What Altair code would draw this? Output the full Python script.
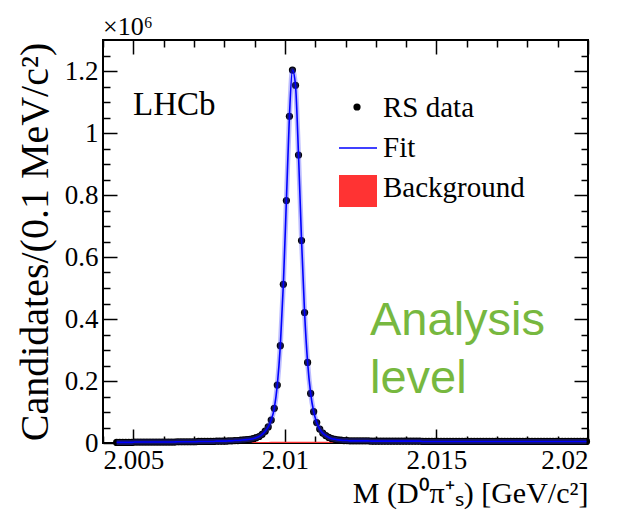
import altair as alt
import pandas as pd

# ---------------- data (values in units of 10^6 candidates) ----------------
bin_start = 2.0044      # GeV/c^2, lower edge of first bin
bin_width = 0.0001      # 0.1 MeV/c^2

counts = [
    # 2.00445 - 2.00595
    0.002, 0.002, 0.002, 0.002, 0.002, 0.002, 0.003, 0.003, 0.003, 0.003,
    0.003, 0.003, 0.003, 0.003, 0.003, 0.003,
    # 2.00605 - 2.00795
    0.003, 0.003, 0.003, 0.003, 0.004, 0.004, 0.004, 0.004, 0.004, 0.004,
    0.004, 0.005, 0.005, 0.005, 0.005, 0.005, 0.005, 0.006, 0.006, 0.006,
    # 2.00805 - 2.00945
    0.006, 0.007, 0.007, 0.008, 0.008, 0.009, 0.010, 0.011, 0.012, 0.014,
    0.017, 0.021, 0.028, 0.038, 0.052,
    # 2.00955 - 2.01195  (peak)
    0.074, 0.112, 0.187, 0.314, 0.512, 0.782, 1.054, 1.203, 1.154, 0.929,
    0.653, 0.421, 0.260, 0.160, 0.101, 0.066, 0.045, 0.032, 0.024, 0.018,
    0.014, 0.012, 0.010, 0.009, 0.008,
    # 2.01205 - 2.01995
    0.008, 0.007, 0.007, 0.007, 0.007, 0.007, 0.007, 0.007, 0.006, 0.006,
    0.006, 0.006, 0.006, 0.006, 0.006, 0.006, 0.006, 0.006, 0.006, 0.006,
    0.006, 0.006, 0.006, 0.006, 0.006, 0.005, 0.005, 0.005, 0.005, 0.005,
    0.005, 0.005, 0.005, 0.005, 0.005, 0.005, 0.005, 0.005, 0.005, 0.005,
    0.005, 0.005, 0.005, 0.005, 0.005, 0.005, 0.005, 0.005, 0.005, 0.005,
    0.005, 0.005, 0.005, 0.005, 0.005, 0.005, 0.005, 0.005, 0.005, 0.005,
    0.005, 0.005, 0.005, 0.005, 0.005, 0.005, 0.005, 0.005, 0.005, 0.005,
    0.005, 0.005, 0.005, 0.005, 0.005, 0.005, 0.005, 0.005, 0.005, 0.005,
]

background = [
    0.001, 0.001, 0.001, 0.001, 0.001, 0.001, 0.001, 0.001, 0.001, 0.001,
    0.001, 0.001, 0.001, 0.001, 0.001, 0.001,
    0.002, 0.002, 0.002, 0.002, 0.002, 0.002, 0.002, 0.002, 0.002, 0.002,
    0.002, 0.002, 0.002, 0.002, 0.002, 0.002, 0.002, 0.002, 0.002, 0.002,
    0.003, 0.003, 0.003, 0.003, 0.003, 0.003, 0.003, 0.003, 0.003, 0.003,
    0.003, 0.003, 0.003, 0.003, 0.003,
    0.004, 0.004, 0.004, 0.004, 0.004, 0.004, 0.004, 0.004, 0.004, 0.004,
    0.004, 0.004, 0.004, 0.004, 0.004, 0.004, 0.004, 0.004, 0.004, 0.004,
    0.004, 0.004, 0.004, 0.004, 0.004,
    0.004, 0.004, 0.004, 0.004, 0.004, 0.004, 0.004, 0.004, 0.004, 0.004,
    0.004, 0.004, 0.004, 0.004, 0.004, 0.004, 0.004, 0.004, 0.004, 0.004,
    0.004, 0.004, 0.004, 0.004, 0.004, 0.004, 0.004, 0.004, 0.004, 0.004,
    0.004, 0.004, 0.004, 0.004, 0.004, 0.004, 0.004, 0.004, 0.004, 0.004,
    0.004, 0.004, 0.004, 0.004, 0.004, 0.004, 0.004, 0.004, 0.004, 0.004,
    0.004, 0.004, 0.004, 0.004, 0.004, 0.004, 0.004, 0.004, 0.004, 0.004,
    0.004, 0.004, 0.004, 0.004, 0.004, 0.004, 0.004, 0.004, 0.004, 0.004,
    0.004, 0.004, 0.004, 0.004, 0.004, 0.004, 0.004, 0.004, 0.004, 0.004,
]

x_major = [2.005, 2.01, 2.015, 2.02]
x_minor = [2.004, 2.006, 2.007, 2.008, 2.009, 2.011, 2.012, 2.013, 2.014,
           2.016, 2.017, 2.018, 2.019]
y_major = [0, 0.2, 0.4, 0.6, 0.8, 1.0, 1.2]
y_minor = [0.05, 0.1, 0.15, 0.25, 0.3, 0.35, 0.45, 0.5, 0.55, 0.65, 0.7, 0.75,
           0.85, 0.9, 0.95, 1.05, 1.1, 1.15, 1.25]

centers = [bin_start + bin_width * (i + 0.5) for i in range(len(counts))]
df = pd.DataFrame({"m": centers, "n": counts, "b": background})

FONT = "Liberation Serif"
MAJ = 14
MIN = 7

xs = alt.Scale(domain=[2.004, 2.02], nice=False, zero=False)
ys = alt.Scale(domain=[0, 1.3], nice=False, zero=False)

def tick_axis(orient, values, size, labels=False, **kw):
    return alt.Axis(orient=orient, values=values, tickSize=size, offset=-size,
                    domain=False, grid=False, labels=labels, tickColor="black",
                    tickWidth=1.5, **kw)

base = alt.Chart(df)

# background
bkg = base.mark_area(color="#ff3333", opacity=1).encode(
    x=alt.X("m:Q", scale=xs, axis=None),
    y=alt.Y("b:Q", scale=ys, axis=None),
)

# data points with the main (labelled) axes
points = base.mark_circle(size=52, color="black", opacity=1).encode(
    x=alt.X("m:Q", scale=xs,
            axis=tick_axis("bottom", x_major, MAJ, labels=True, format="~g",
                           labelFont=FONT, labelFontSize=27, labelColor="black",
                           labelPadding=4, title="M (D⁰π⁺ₛ) [GeV/c²]",
                           titleFont=FONT, titleFontSize=30,
                           titleFontWeight="normal", titleColor="black",
                           titleAnchor="end", titlePadding=5)),
    y=alt.Y("n:Q", scale=ys,
            axis=tick_axis("left", y_major, MAJ, labels=True, format="~g",
                           labelFont=FONT, labelFontSize=27, labelColor="black",
                           labelPadding=5, title="Candidates/(0.1 MeV/c²)",
                           titleFont=FONT, titleFontSize=40,
                           titleFontWeight="normal", titleColor="black",
                           titlePadding=9)),
)

halo = base.mark_line(color="#4040ff", strokeWidth=5, opacity=0.35,
                      interpolate="monotone").encode(
    x=alt.X("m:Q", scale=xs, axis=None),
    y=alt.Y("n:Q", scale=ys, axis=None),
)
fit = base.mark_line(color="#0000ff", strokeWidth=1.6,
                     interpolate="monotone").encode(
    x=alt.X("m:Q", scale=xs, axis=None),
    y=alt.Y("n:Q", scale=ys, axis=None),
)

def ghost(xa, ya):
    return base.mark_point(opacity=0).encode(
        x=alt.X("m:Q", scale=xs, axis=xa, title=None),
        y=alt.Y("n:Q", scale=ys, axis=ya, title=None),
    )

ax_minor_bl = ghost(tick_axis("bottom", x_minor, MIN), tick_axis("left", y_minor, MIN))
ax_major_tr = ghost(tick_axis("top", x_major, MAJ), tick_axis("right", y_major, MAJ))
ax_minor_tr = ghost(tick_axis("top", x_minor, MIN), tick_axis("right", y_minor, MIN))

one = alt.Data(values=[{}])

def label(text, x, y, size, font=FONT, color="black"):
    return alt.Chart(one).mark_text(text=text, font=font, fontSize=size,
                                    align="left", baseline="alphabetic",
                                    color=color).encode(
        x=alt.value(x), y=alt.value(y))

exp_label = label("×10⁶", 0, -5, 26)
lhcb = label("LHCb", 30, 75, 33)

leg_dot = alt.Chart(one).mark_circle(size=52, color="black", opacity=1).encode(
    x=alt.value(254), y=alt.value(67))
leg_line = alt.Chart(one).mark_rule(color="#0000ff", strokeWidth=1.6).encode(
    x=alt.value(236), x2=alt.value(274), y=alt.value(108))
leg_rect = alt.Chart(one).mark_rect(color="#ff3333").encode(
    x=alt.value(236), x2=alt.value(274), y=alt.value(135), y2=alt.value(167))
leg_t1 = label("RS data", 280, 77, 29)
leg_t2 = label("Fit", 280, 117, 29)
leg_t3 = label("Background", 280, 157, 29)

green = "#77b83f"
an1 = label("Analysis", 267, 295, 47, font="Liberation Sans", color=green)
an2 = label("level", 267, 353, 47, font="Liberation Sans", color=green)

chart = alt.layer(
    bkg, points, halo, fit, ax_minor_bl, ax_major_tr, ax_minor_tr,
    exp_label, lhcb, leg_dot, leg_line, leg_rect, leg_t1, leg_t2, leg_t3,
    an1, an2,
).resolve_axis(x="independent", y="independent").properties(
    width=485, height=403,
    autosize=alt.AutoSizeParams(type="none"),
    padding={"left": 95, "top": 32, "right": 20, "bottom": 68},
    background="white",
).configure_view(stroke="black", strokeWidth=2)

chart.save("out.html", embed_options={"renderer": "svg", "actions": False})
